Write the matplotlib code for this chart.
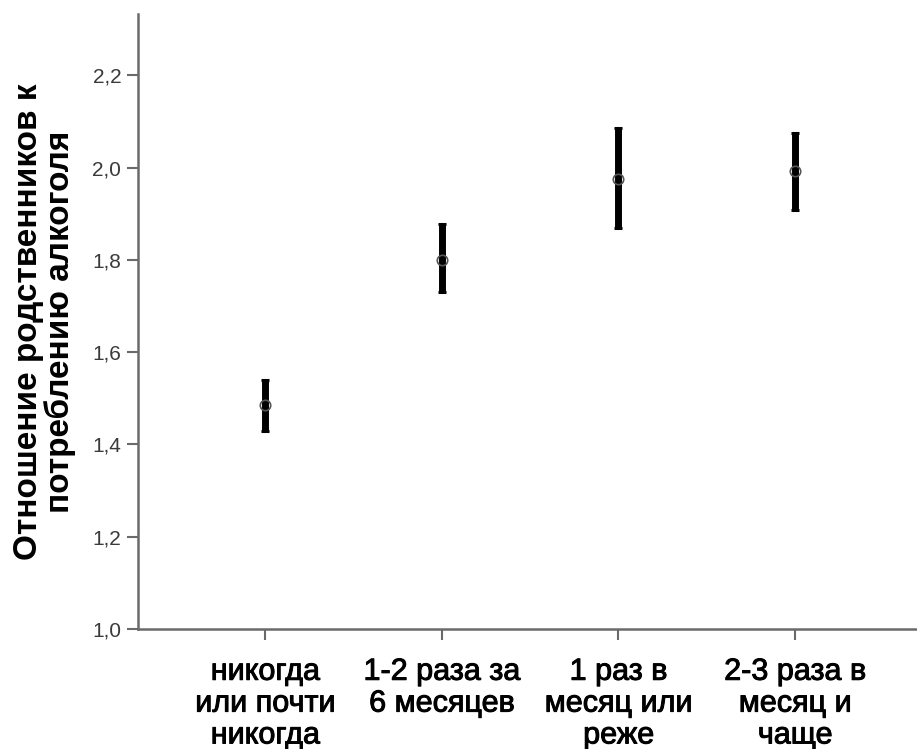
import numpy as np
import matplotlib
matplotlib.use('Agg')
from matplotlib import pyplot as plt
import matplotlib.patheffects as pe

# group labels and mean/CI values
categories = ['никогда\nили почти\nникогда', '1-2 раза за\n6 месяцев',
              '1 раз в\nмесяц или\nреже', '2-3 раза в\nмесяц и\nчаще']
means = [1.485, 1.800, 1.975, 1.992]
ci_low = [1.429, 1.730, 1.869, 1.908]
ci_high = [1.540, 1.878, 2.086, 2.075]
yticks = [1.0, 1.2, 1.4, 1.6, 1.8, 2.0, 2.2]

plt.rcParams['font.family'] = ['Liberation Sans', 'DejaVu Sans']

fig = plt.figure(figsize=(9.17, 7.49), dpi=100)
ax = fig.add_axes([0.1505, 0.1602, 0.8495, 0.8211])

x = np.arange(len(categories))
m = np.array(means)
yerr = np.vstack((m - np.array(ci_low), np.array(ci_high) - m))
ax.errorbar(x, m, yerr=yerr, fmt='none', ecolor='black', elinewidth=5,
            capsize=3.2, capthick=2.2, zorder=2)
ax.plot(x, m, 'o', ms=7.5, mfc='none', mec='#555555', mew=1.2, zorder=3)

ax.set_xlim(-0.72, 3.69)
ax.set_ylim(1.0, 2.333)
ax.set_xticks(x)
ax.set_xticklabels(categories, fontsize=22, linespacing=1.08)
for t in ax.get_xticklabels():
    t.set_path_effects([pe.withStroke(linewidth=0.7, foreground='black')])
ax.set_yticks(yticks)
ax.set_yticklabels([('%.1f' % v).replace('.', ',') for v in yticks],
                   fontsize=15, color='#3a3a3a')
ax.tick_params(axis='both', color='#6a6a6a', width=1.5, length=8)
ax.tick_params(axis='y', pad=4)
ax.tick_params(axis='x', pad=12)

for s in ['top', 'right']:
    ax.spines[s].set_visible(False)
for s in ['left', 'bottom']:
    ax.spines[s].set_color('#6a6a6a')
    ax.spines[s].set_linewidth(1.8)

ax.set_ylabel('Отношение родственников к\nпотреблению алкоголя',
              fontsize=24, fontweight='bold', linespacing=0.98, labelpad=12)

fig.savefig('out.png', dpi=100)
